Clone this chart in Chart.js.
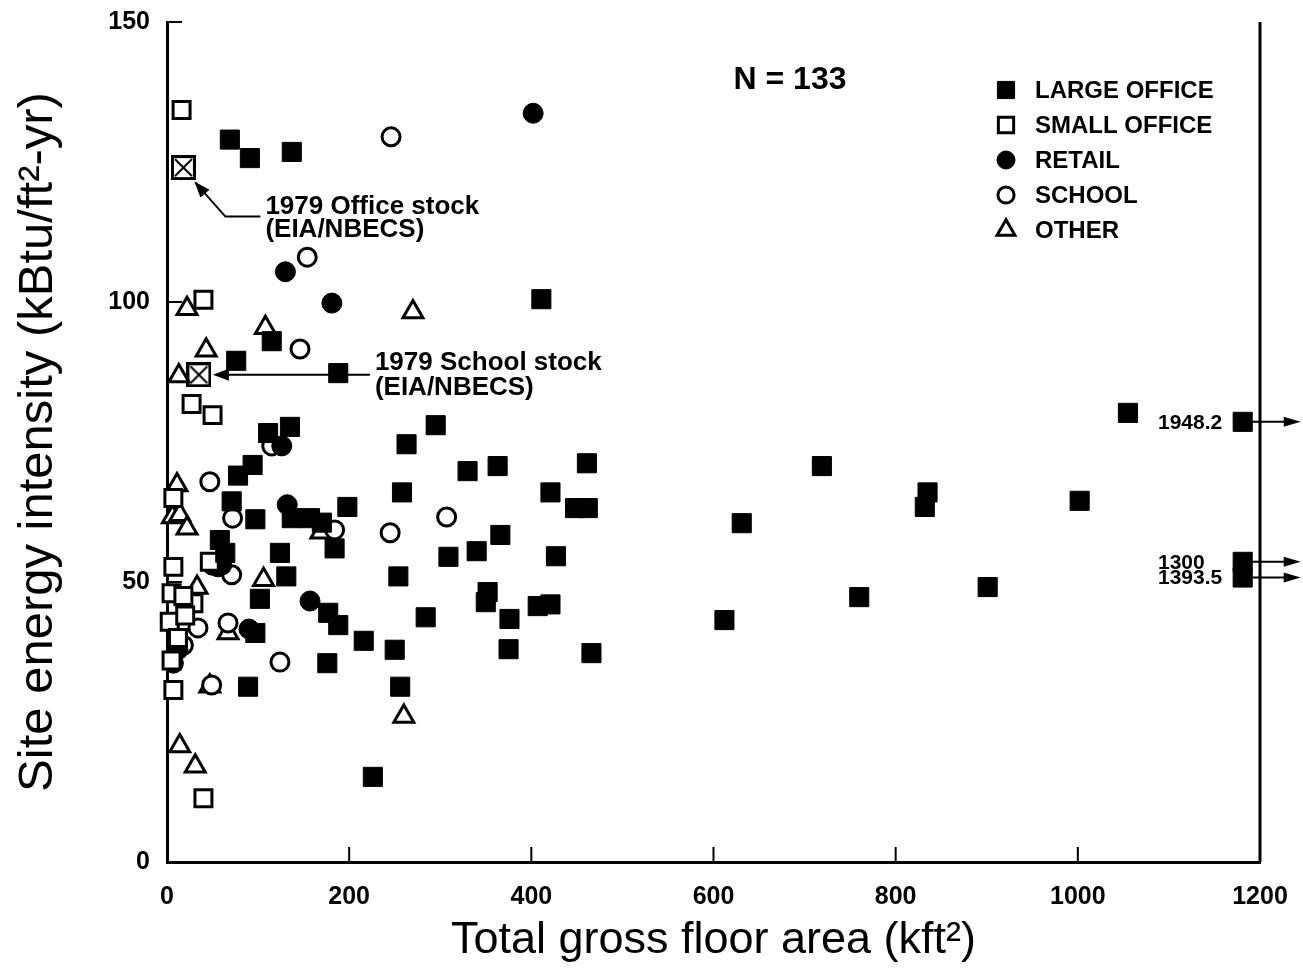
<!DOCTYPE html>
<html>
<head>
<meta charset="utf-8">
<script src="https://cdn.jsdelivr.net/npm/chart.js@4.4.1/dist/chart.umd.min.js"></script>
<style>
  html, body { margin: 0; padding: 0; background: #fff; }
</style>
</head>
<body>
<canvas id="chart" width="1303" height="972"></canvas>
<script>
// Building data: [floor area (kft2), site energy intensity (kBtu/ft2-yr)]
const largeOffice = [
  [69,129],[91,125.7],[137,126.8],[411,100.5],[115,93],[76,89.5],[188,87.3],[1055,80.2],
  [111,76.6],[135,77.7],[295,78],[263,74.6],[330,69.8],[363,70.7],[461,71.2],[258,66],
  [421,66],[448,63.2],[462,63.2],[198,63.4],[309,54.5],[340,55.5],[366,58.4],[427,54.6],
  [254,51],[352,48.2],[350,46.4],[284,43.7],[376,43.4],[407,45.7],[421,46],[188,42.3],
  [216,39.5],[250,37.9],[375,38],[466,37.3],[256,31.3],[226,15.2],[719,70.7],[631,60.5],
  [832,63.4],[835,66],[1002,64.5],[612,43.2],[760,47.3],[901,49.1],[94,70.9],[78,69],
  [71,64.4],[97,61.2],[157,61.4],[170,60.6],[137,61.4],[184,56],[58,57.5],[64,55.2],
  [124,55.2],[131,51],[102,47],[177,44.5],[176,35.5],[89,31.3],[97,40.9]
];
const smallOffice = [
  [16,134.3],[40,100.4],[27,81.8],[50,79.8],[7,65],[7,52.7],[47,53.6],[5,48],[29,46.2],
  [18,47.5],[3,42.9],[12,40],[7,30.7],[40,11.4],[5,36],[20,44]
];
const retail = [
  [402,133.7],[130,105.4],[181,99.8],[126,74.3],[132,63.8],[56,52.7],[157,46.6],[90,41.6],
  [12,37.9],[7,35.5],[60,53]
];
const school = [
  [246,129.5],[154,108],[146,91.6],[115,74.3],[47,67.9],[72,61.4],[184,59.3],[245,58.8],
  [307,61.6],[71,51.3],[34,41.8],[67,42.7],[124,35.7],[49,31.6],[18,38.7],[50,53],[12,40]
];
const other = [
  [22,98.8],[13,86.8],[43,91.4],[108,95.4],[270,98.2],[11,67.3],[6,61.6],[14,62],[22,59.6],
  [169,58.9],[106,50.4],[33,49],[67,40.9],[47,31.4],[14,20.7],[31,17.1],[260,26]
];
// 1979 stock averages (EIA/NBECS): office, school
const stockPoints = [[18,124],[35,87]];
const stockLabels = [['1979 Office stock','(EIA/NBECS)'],['1979 School stock','(EIA/NBECS)']];
// Large offices beyond the axis, shown at the right edge with arrows
const offscaleArea = [1948.2, 1300, 1393.5];
const offscaleEui = [78.6, 53.6, 50.8];

const seriesNames = ['LARGE OFFICE','SMALL OFFICE','RETAIL','SCHOOL','OTHER'];
const xTicks = [0,200,400,600,800,1000,1200];
const yTicks = [0,50,100,150];
const sampleCount = 133;

const X_MAX = 1200;
const EDGE_X = 1181; // where off-scale points sit
const FONT = '"Liberation Sans", Arial, sans-serif';

function toXY(arr) { return arr.map(p => ({x: p[0], y: p[1]})); }

function crossedBox(size) {
  const c = document.createElement('canvas');
  c.width = c.height = size;
  const g = c.getContext('2d');
  g.fillStyle = '#fff';
  g.fillRect(1, 1, size - 2, size - 2);
  g.strokeStyle = '#000';
  g.lineWidth = 3;
  g.strokeRect(1.5, 1.5, size - 3, size - 3);
  g.lineWidth = 2;
  g.beginPath();
  g.moveTo(4, 4); g.lineTo(size - 4, size - 4);
  g.moveTo(size - 4, 4); g.lineTo(4, size - 4);
  g.stroke();
  return c;
}

const markerStyles = [
  {pointStyle: 'rect', radius: 13.5, fill: '#000', bw: 1},
  {pointStyle: 'rect', radius: 12, fill: '#fff', bw: 3},
  {pointStyle: 'circle', radius: 10, fill: '#000', bw: 1},
  {pointStyle: 'circle', radius: 9, fill: '#fff', bw: 3},
  {pointStyle: 'triangle', radius: 11.5, fill: '#fff', bw: 3}
];
const seriesData = [largeOffice, smallOffice, retail, school, other];

const datasets = seriesData.map((d, i) => ({
  label: seriesNames[i],
  data: toXY(d),
  pointStyle: markerStyles[i].pointStyle,
  pointRadius: markerStyles[i].radius,
  pointBackgroundColor: markerStyles[i].fill,
  pointBorderColor: '#000',
  pointBorderWidth: markerStyles[i].bw,
  clip: false
}));
datasets.push({
  label: 'stock',
  data: toXY(stockPoints),
  pointStyle: crossedBox(25),
  pointRadius: 12,
  clip: false
});
datasets.push({
  label: 'offscale',
  data: offscaleArea.map((a, i) => ({x: Math.min(a, EDGE_X), y: offscaleEui[i]})),
  pointStyle: 'rect',
  pointRadius: 13.5,
  pointBackgroundColor: '#000',
  pointBorderColor: '#000',
  pointBorderWidth: 1,
  clip: false
});

function arrowHead(ctx, x, y, angle, len, half) {
  ctx.save();
  ctx.translate(x, y);
  ctx.rotate(angle);
  ctx.beginPath();
  ctx.moveTo(0, 0);
  ctx.lineTo(-len, -half);
  ctx.lineTo(-len, half);
  ctx.closePath();
  ctx.fill();
  ctx.restore();
}

const decorations = {
  id: 'decorations',
  afterDraw(chart) {
    const {ctx, chartArea: a, scales: {x, y}} = chart;
    ctx.save();
    ctx.strokeStyle = '#000';
    ctx.fillStyle = '#000';

    // right frame line
    ctx.lineWidth = 3;
    ctx.beginPath();
    ctx.moveTo(a.right, a.top);
    ctx.lineTo(a.right, a.bottom);
    ctx.stroke();

    // inward ticks
    ctx.lineWidth = 2;
    ctx.beginPath();
    xTicks.forEach(v => {
      const px = x.getPixelForValue(v);
      ctx.moveTo(px, a.bottom); ctx.lineTo(px, a.bottom - 15);
    });
    yTicks.forEach(v => {
      const py = y.getPixelForValue(v);
      ctx.moveTo(a.left, py); ctx.lineTo(a.left + 15, py);
    });
    ctx.stroke();

    // N label
    ctx.font = 'bold 32px ' + FONT;
    ctx.textAlign = 'center';
    ctx.textBaseline = 'middle';
    ctx.fillText('N = ' + sampleCount, 790, 80);

    // legend
    ctx.font = 'bold 24px ' + FONT;
    ctx.textAlign = 'left';
    seriesNames.forEach((name, i) => {
      const ly = 90 + i * 35;
      const st = markerStyles[i];
      ctx.fillStyle = st.fill;
      ctx.strokeStyle = '#000';
      ctx.lineWidth = st.bw;
      Chart.helpers.drawPoint(ctx, {pointStyle: st.pointStyle, radius: st.radius * 0.9, rotation: 0, borderWidth: st.bw}, 1006, ly);
      ctx.fillStyle = '#000';
      ctx.fillText(name, 1035, ly + 1);
    });

    // stock annotations
    ctx.lineWidth = 2;
    ctx.font = 'bold 26px ' + FONT;
    const o = stockPoints[0];
    const ox = x.getPixelForValue(o[0]), oy = y.getPixelForValue(o[1]);
    ctx.beginPath();
    ctx.moveTo(ox + 77, oy + 49);
    ctx.lineTo(ox + 42, oy + 49);
    ctx.lineTo(ox + 12, oy + 15);
    ctx.stroke();
    arrowHead(ctx, ox + 11, oy + 14, Math.atan2(-34, -30), 16, 6);
    ctx.fillText(stockLabels[0][0], ox + 82, oy + 39);
    ctx.fillText(stockLabels[0][1], ox + 82, oy + 62);

    const s = stockPoints[1];
    const sx = x.getPixelForValue(s[0]), sy = y.getPixelForValue(s[1]);
    ctx.beginPath();
    ctx.moveTo(sx + 171, sy);
    ctx.lineTo(sx + 20, sy);
    ctx.stroke();
    arrowHead(ctx, sx + 14, sy, Math.PI, 16, 6);
    ctx.fillText(stockLabels[1][0], sx + 176, sy - 12);
    ctx.fillText(stockLabels[1][1], sx + 176, sy + 13);

    // off-scale arrows and labels
    ctx.font = 'bold 21px ' + FONT;
    offscaleArea.forEach((v, i) => {
      const px = x.getPixelForValue(Math.min(v, EDGE_X));
      const py = y.getPixelForValue(offscaleEui[i]);
      ctx.beginPath();
      ctx.moveTo(px + 9, py);
      ctx.lineTo(px + 42, py);
      ctx.stroke();
      arrowHead(ctx, px + 58, py, 0, 17, 5);
      ctx.fillText(String(v), 1158, py + 1);
    });
    ctx.restore();
  }
};

new Chart(document.getElementById('chart').getContext('2d'), {
  type: 'scatter',
  data: {datasets},
  options: {
    responsive: false,
    animation: false,
    layout: {padding: {top: 22, right: 43, left: 0, bottom: 0}},
    plugins: {legend: {display: false}, tooltip: {enabled: false}},
    scales: {
      x: {
        type: 'linear',
        min: 0, max: X_MAX,
        afterBuildTicks: sc => { sc.ticks = xTicks.map(v => ({value: v})); },
        afterFit: sc => { sc.height = 110; sc.paddingLeft = 0; sc.paddingRight = 0; },
        grid: {display: false, drawTicks: false},
        border: {display: true, width: 3, color: '#000'},
        ticks: {color: '#000', padding: 20, maxRotation: 0, callback: v => String(v),
          font: {family: FONT, size: 25, weight: 'bold'}},
        title: {display: true, text: 'Total gross floor area (kft²)', color: '#000',
          padding: {top: 0, bottom: 4},
          font: {family: FONT, size: 45}}
      },
      y: {
        type: 'linear',
        min: 0, max: 150,
        afterBuildTicks: sc => { sc.ticks = yTicks.map(v => ({value: v})); },
        afterFit: sc => { sc.width = 167; sc.paddingTop = 0; sc.paddingBottom = 0; },
        grid: {display: false, drawTicks: false},
        border: {display: true, width: 3, color: '#000'},
        ticks: {color: '#000', padding: 17, callback: v => String(v),
          font: {family: FONT, size: 25, weight: 'bold'}},
        title: {display: true, text: 'Site energy intensity (kBtu/ft²-yr)', color: '#000',
          padding: {top: 9, bottom: 0},
          font: {family: FONT, size: 49}}
      }
    }
  },
  plugins: [decorations]
});
</script>
</body>
</html>
